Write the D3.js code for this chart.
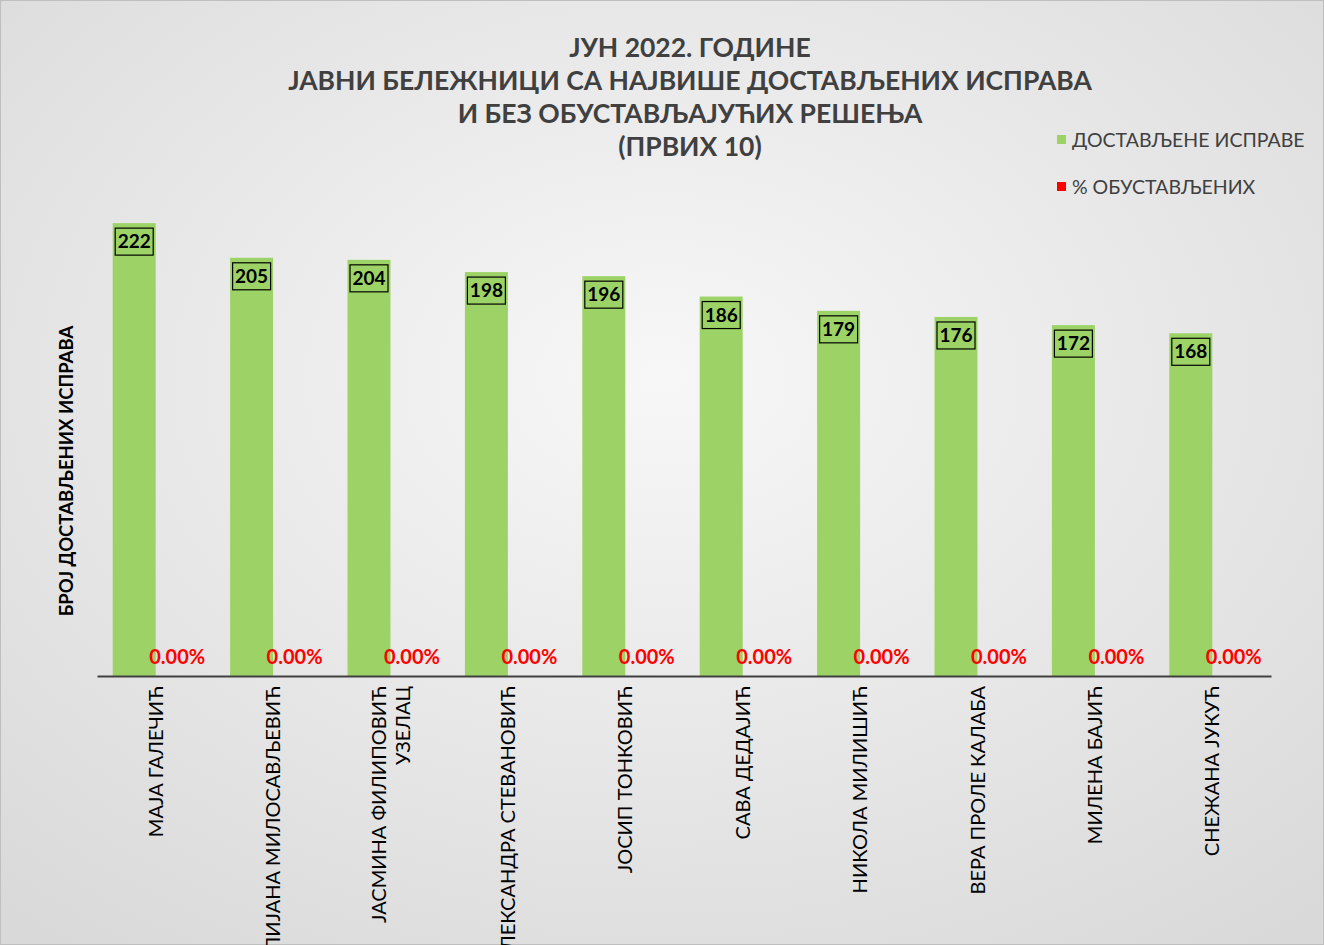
<!DOCTYPE html>
<html><head><meta charset="utf-8">
<script src="https://cdn.jsdelivr.net/npm/d3@7"></script>
<style>body{margin:0;}svg{display:block;font-family:Lato,"Open Sans",sans-serif;}</style>
</head><body><svg id="c" width="1324" height="945"></svg>
<script>
const categories=[["МАЈА ГАЛЕЧИЋ"],["МИЛИЈАНА МИЛОСАВЉЕВИЋ"],["ЈАСМИНА ФИЛИПОВИЋ","УЗЕЛАЦ"],["АЛЕКСАНДРА СТЕВАНОВИЋ"],["ЈОСИП ТОНКОВИЋ"],["САВА ДЕДАЈИЋ"],["НИКОЛА МИЛИШИЋ"],["ВЕРА ПРОЛЕ КАЛАБА"],["МИЛЕНА БАЈИЋ"],["СНЕЖАНА ЈУКУЋ"]];
const documents=[222,205,204,198,196,186,179,176,172,168];
const percents=[0,0,0,0,0,0,0,0,0,0];
const titleLines=["ЈУН 2022. ГОДИНЕ","ЈАВНИ БЕЛЕЖНИЦИ СА НАЈВИШЕ ДОСТАВЉЕНИХ ИСПРАВА","И БЕЗ ОБУСТАВЉАЈУЋИХ РЕШЕЊА","(ПРВИХ 10)"];
const legendLabels=["ДОСТАВЉЕНЕ ИСПРАВЕ","% ОБУСТАВЉЕНИХ"];
const colors=["#9dd366","#ff0000"];

const svg=d3.select("#c");
const defs=svg.append("defs");
const g=defs.append("radialGradient").attr("id","bg").attr("cx","50%").attr("cy","40%").attr("r","75%");
g.append("stop").attr("offset","0%").attr("stop-color","#f7f7f7");
g.append("stop").attr("offset","100%").attr("stop-color","#d9d9d9");
svg.append("rect").attr("x",0.5).attr("y",0.5).attr("width",1323).attr("height",944).attr("fill","url(#bg)").attr("stroke","#bfbfbf");

const x=d3.scaleBand().domain(d3.range(10)).range([97,1271]);
const y=d3.scaleLinear().domain([0,250]).range([676,166]);
const bw=43;
const off=(x.bandwidth()-2*bw)/2;

svg.selectAll(".bar").data(documents).join("rect")
 .attr("x",(d,i)=>x(i)+off).attr("width",bw).attr("y",d=>y(d)).attr("height",d=>y(0)-y(d)).attr("fill",colors[0]);
svg.selectAll(".bar2").data(percents).join("rect")
 .attr("x",(d,i)=>x(i)+off+bw).attr("width",bw).attr("y",d=>y(d)).attr("height",d=>y(0)-y(d)).attr("fill",colors[1]);

documents.forEach((d,i)=>{
 const cx=x(i)+off+bw/2, cy=y(d)+18;
 svg.append("rect").attr("x",cx-19).attr("y",cy-13).attr("width",38).attr("height",27).attr("fill","none").attr("stroke","#000").attr("stroke-width",1.2);
 svg.append("text").attr("x",cx).attr("y",cy+7).attr("text-anchor","middle").attr("font-size",19).attr("font-weight","bold").text(d);
});
percents.forEach((d,i)=>{
 svg.append("text").attr("x",x(i)+off+bw*1.5).attr("y",664).attr("text-anchor","middle").attr("font-size",20).attr("font-weight","bold").attr("fill","#ff0000").text(d.toFixed(2)+"%");
});

svg.append("g").attr("transform","translate(0,676)").call(d3.axisBottom(x).tickSize(0).tickFormat(""))
 .call(a=>a.select(".domain").attr("stroke","#404040").attr("stroke-width",2));

categories.forEach((lines,i)=>{
 const cx=x(i)+x.bandwidth()/2;
 const t=svg.append("text").attr("transform",`translate(${cx},686) rotate(-90)`).attr("text-anchor","end").attr("font-size",20);
 lines.forEach((l,j)=>t.append("tspan").attr("x",0).attr("y",(j-(lines.length-1)/2)*24+7).text(l));
});

svg.append("text").attr("transform","translate(73,471) rotate(-90)").attr("text-anchor","middle").attr("font-size",18.5).attr("font-weight","bold").text("БРОЈ ДОСТАВЉЕНИХ ИСПРАВА");

titleLines.forEach((l,i)=>svg.append("text").attr("x",690).attr("y",57+i*33).attr("text-anchor","middle").attr("font-size",26.5).attr("font-weight","bold").attr("fill","#404040").text(l));

legendLabels.forEach((l,i)=>{
 svg.append("rect").attr("x",1057).attr("y",135+i*47).attr("width",9).attr("height",9).attr("fill",colors[i]);
 svg.append("text").attr("x",1072).attr("y",147+i*47).attr("font-size",19.5).attr("fill","#404040").text(l);
});
</script></body></html>
